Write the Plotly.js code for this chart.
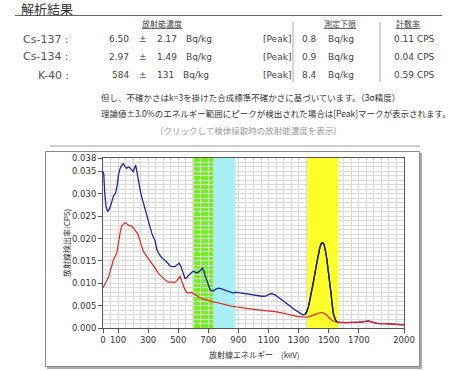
<!DOCTYPE html>
<html>
<head>
<meta charset="utf-8">
<script src="https://cdn.plot.ly/plotly-3.0.1.min.js"></script>
<style>
html,body{margin:0;padding:0;background:#fff;}
#chart{width:471px;height:371px;}
</style>
</head>
<body>
<div id="chart"></div>
<script>
// ---------- data ----------
const nuclides = ['Cs-137', 'Cs-134', 'K-40'];
const concValues = ['6.50', '2.97', '584'];
const concUnc = ['2.17', '1.49', '131'];
const peakMarks = ['[Peak]', '[Peak]', '[Peak]'];
const detLimits = ['0.8', '0.9', '8.4'];
const countRates = ['0.11', '0.04', '0.59'];

const xTickVals = [0, 100, 300, 500, 700, 900, 1100, 1300, 1500, 1700, 2000];
const yTickVals = [0, 0.005, 0.010, 0.015, 0.020, 0.025, 0.030, 0.035, 0.038];

// energy windows (keV)
const cs137Window = [595, 735];
const cs134Window = [735, 880];
const k40Window = [1357, 1565];

// blue spectrum
const blueE = [0, 5, 12, 20, 31, 45, 58, 70, 84, 95, 102, 112, 124, 135, 145, 157, 168, 179, 190, 201, 210, 217, 225, 235, 246, 257, 268, 279, 290, 301, 312, 324, 335, 346, 357, 368, 390, 410, 423, 440, 456, 478, 495, 505, 515, 523, 535, 545, 556, 567, 589, 600, 611, 622, 633, 645, 660, 670, 678, 687, 696, 705, 711, 722, 733, 750, 766, 783, 799, 816, 833, 850, 866, 882, 899, 922, 944, 966, 988, 1010, 1032, 1054, 1076, 1093, 1110, 1127, 1143, 1160, 1176, 1193, 1209, 1226, 1243, 1260, 1276, 1293, 1309, 1320, 1331, 1342, 1353, 1364, 1375, 1386, 1397, 1408, 1420, 1431, 1442, 1451, 1460, 1468, 1475, 1486, 1497, 1506, 1515, 1522, 1530, 1542, 1553, 1570, 1590, 1608, 1630, 1650, 1674, 1700, 1730, 1763, 1790, 1829, 1870, 1918, 1960, 2000];
const blueCps = [0.0350, 0.0345, 0.0300, 0.0272, 0.0260, 0.0268, 0.0282, 0.0295, 0.0302, 0.0320, 0.0340, 0.0355, 0.0364, 0.0367, 0.0362, 0.0357, 0.0360, 0.0358, 0.0354, 0.0350, 0.0358, 0.0364, 0.0350, 0.0327, 0.0310, 0.0293, 0.0280, 0.0264, 0.0250, 0.0238, 0.0225, 0.0212, 0.0203, 0.0195, 0.0176, 0.0168, 0.0157, 0.0152, 0.0148, 0.0141, 0.0137, 0.0137, 0.0141, 0.0145, 0.0140, 0.0133, 0.0120, 0.0111, 0.0112, 0.0117, 0.0124, 0.0127, 0.0125, 0.0123, 0.0125, 0.0128, 0.0134, 0.0128, 0.0118, 0.0108, 0.0100, 0.0090, 0.0086, 0.0083, 0.0083, 0.0087, 0.0089, 0.0088, 0.0086, 0.0083, 0.0081, 0.0080, 0.0078, 0.0080, 0.0079, 0.0078, 0.0076, 0.0075, 0.0074, 0.0073, 0.0072, 0.0071, 0.0071, 0.0074, 0.0076, 0.0076, 0.0074, 0.0070, 0.0066, 0.0062, 0.0059, 0.0054, 0.0049, 0.0044, 0.0040, 0.0036, 0.0033, 0.0031, 0.0029, 0.0030, 0.0036, 0.0046, 0.0063, 0.0080, 0.0100, 0.0122, 0.0145, 0.0165, 0.0182, 0.0189, 0.0191, 0.0187, 0.0178, 0.0157, 0.0130, 0.0104, 0.0078, 0.0055, 0.0033, 0.0020, 0.0014, 0.0013, 0.0012, 0.0012, 0.0012, 0.0012, 0.0012, 0.0013, 0.0014, 0.0016, 0.0013, 0.0010, 0.0010, 0.0009, 0.0008, 0.0007];

// red spectrum
const redE = [0, 12, 24, 35, 47, 58, 69, 80, 91, 100, 106, 115, 124, 135, 145, 151, 160, 168, 179, 190, 201, 213, 224, 235, 246, 257, 268, 285, 301, 318, 334, 350, 368, 385, 401, 418, 434, 456, 478, 490, 500, 512, 520, 527, 536, 545, 556, 567, 578, 589, 600, 611, 633, 656, 689, 722, 755, 789, 822, 855, 889, 922, 955, 988, 1021, 1054, 1088, 1121, 1154, 1187, 1220, 1254, 1287, 1320, 1342, 1364, 1386, 1408, 1431, 1453, 1468, 1486, 1503, 1519, 1536, 1553, 1580, 1608, 1640, 1674, 1700, 1730, 1763, 1790, 1829, 1870, 1918, 1960, 2000];
const redCps = [0.0090, 0.0098, 0.0103, 0.0112, 0.0126, 0.0140, 0.0152, 0.0160, 0.0167, 0.0185, 0.0200, 0.0215, 0.0228, 0.0233, 0.0235, 0.0235, 0.0232, 0.0230, 0.0229, 0.0228, 0.0224, 0.0220, 0.0214, 0.0206, 0.0193, 0.0180, 0.0171, 0.0163, 0.0156, 0.0148, 0.0141, 0.0132, 0.0122, 0.0116, 0.0111, 0.0106, 0.0103, 0.0102, 0.0102, 0.0106, 0.0111, 0.0115, 0.0108, 0.0100, 0.0092, 0.0085, 0.0080, 0.0078, 0.0079, 0.0080, 0.0077, 0.0074, 0.0070, 0.0066, 0.0062, 0.0059, 0.0057, 0.0054, 0.0051, 0.0049, 0.0047, 0.0046, 0.0044, 0.0042, 0.0041, 0.0040, 0.0039, 0.0038, 0.0036, 0.0034, 0.0031, 0.0029, 0.0026, 0.0025, 0.0024, 0.0025, 0.0027, 0.0030, 0.0033, 0.0035, 0.0033, 0.0029, 0.0023, 0.0018, 0.0015, 0.0013, 0.0012, 0.0012, 0.0012, 0.0012, 0.0013, 0.0014, 0.0016, 0.0013, 0.0010, 0.0010, 0.0009, 0.0008, 0.0007];

// ---------- layout helpers ----------
const PL = 103, PR = 404, PT = 158, PB = 328;
const YMAX = 0.038;
const fx = p => (p - PL) / (PR - PL);
const fy = p => (PB - p) / (PB - PT);
const LAT = 'DejaVu Sans, Verdana, sans-serif';
const JP = 'Noto Sans CJK JP, sans-serif';

const annotations = [];
function txt(text, x, y, anchor, size, color, family, extra) {
  annotations.push(Object.assign({
    text: text, xref: 'paper', yref: 'paper', x: fx(x), y: fy(y),
    xanchor: anchor, yanchor: 'middle', showarrow: false, borderpad: 0,
    font: {family: family || LAT, size: size, color: color || '#444'}
  }, extra || {}));
}
const shapes = [];
function pline(x0, y0, x1, y1, color, width) {
  shapes.push({type: 'line', xref: 'paper', yref: 'paper', x0: fx(x0), y0: fy(y0), x1: fx(x1), y1: fy(y1),
    line: {color: color, width: width}});
}

// header
txt('解析結果', 20, 8, 'left', 13, '#333', JP);
pline(15, 15.5, 442, 15.5, '#666', 1);
txt('<u>放射能濃度</u>', 162, 24, 'center', 8, '#444', JP);
txt('<u>測定下限</u>', 340, 24, 'center', 8, '#444', JP);
txt('<u>計数率</u>', 408, 24, 'center', 8, '#444', JP);
pline(293, 22, 293, 82, '#aaa', 1);
pline(380, 22, 380, 82, '#aaa', 1);

const rowY = [39, 57, 75];
const bqX = [185, 185, 182];
nuclides.forEach((n, i) => {
  const y = rowY[i];
  txt(n + ' :', 70, y, 'right', 11, '#555');
  txt(concValues[i], 130, y, 'right', 9, '#444');
  txt('±', 143, y, 'center', 9, '#444');
  txt(concUnc[i], 156, y, 'left', 9, '#444');
  txt('Bq/kg', bqX[i], y, 'left', 9, '#444');
  txt(peakMarks[i], 262, y, 'left', 9, '#444');
  txt(detLimits[i], 318, y, 'right', 9, '#444');
  txt('Bq/kg', 327, y, 'left', 9, '#444');
  txt(countRates[i] + ' CPS', 393, y, 'left', 9, '#444');
});

txt('但し、不確かさはk=3を掛けた合成標準不確かさに基づいています。（3σ精度）', 100, 97, 'left', 8.5, '#333', JP);
txt('理論値±3.0%のエネルギー範囲にピークが検出された場合は[Peak]マークが表示されます。', 100, 113, 'left', 8.5, '#333', JP);
txt('（クリックして検体採取時の放射能濃度を表示）', 248, 130, 'center', 8.5, '#999', JP);
pline(50, 146, 420, 146, '#999', 1);

// chart frame with shadow
shapes.push({type: 'rect', xref: 'paper', yref: 'paper', x0: fx(45.5), y0: fy(151.5), x1: fx(419.5), y1: fy(366.5),
  line: {color: '#888', width: 1}, fillcolor: 'rgba(0,0,0,0)'});
pline(47, 368, 421, 368, '#aaa', 2);
pline(421, 153, 421, 369, '#aaa', 2);

// Cs-137 window: below the grid, so grid shows through
shapes.push({type: 'rect', xref: 'x', yref: 'paper', x0: cs137Window[0], x1: cs137Window[1], y0: 0, y1: 1,
  fillcolor: '#77ee22', line: {width: 0}, layer: 'below'});

// axis titles
txt('放射線検出率(CPS)', 66, 243, 'center', 8, '#333', JP, {textangle: -90});
txt('放射線エネルギー　(keV)', 254, 354, 'center', 8, '#333', JP);

// Cs-134 and K-40 windows as filled traces (above grid, below spectra)
function band(win, color) {
  return {x: [win[0], win[1], win[1], win[0], win[0]], y: [0, 0, YMAX, YMAX, 0],
    type: 'scatter', mode: 'lines', fill: 'toself', fillcolor: color, line: {width: 0, color: color}, hoverinfo: 'skip'};
}

// peak segment of the blue spectrum (drawn black)
const pkStart = blueE.indexOf(1342), pkEnd = blueE.indexOf(1553);

const traces = [
  band(cs134Window, '#a8f0f6'),
  band(k40Window, '#ffff2a'),
  {x: blueE, y: blueCps, type: 'scatter', mode: 'lines', line: {color: '#1f24b0', width: 1.3}, hoverinfo: 'skip'},
  {x: redE, y: redCps, type: 'scatter', mode: 'lines', line: {color: '#e3261f', width: 1.2}, hoverinfo: 'skip'},
  {x: blueE.slice(pkStart, pkEnd + 1), y: blueCps.slice(pkStart, pkEnd + 1), type: 'scatter', mode: 'lines',
   line: {color: '#1a1a1a', width: 1.3}, hoverinfo: 'skip'}
];

const gridC = '#d9d9d9';
const layout = {
  width: 471, height: 371,
  margin: {l: PL, r: 471 - PR, t: PT, b: 371 - PB, pad: 0},
  paper_bgcolor: '#fff', plot_bgcolor: '#fff',
  showlegend: false,
  xaxis: {
    range: [0, 2000], tickmode: 'array', tickvals: xTickVals, ticktext: xTickVals.map(String),
    ticks: 'outside', ticklen: 4, tickcolor: '#555', tickwidth: 1,
    showline: true, linecolor: '#555', linewidth: 1, mirror: true,
    showgrid: true, gridcolor: gridC, gridwidth: 1, zeroline: false,
    minor: {dtick: 50, tick0: 0, showgrid: true, gridcolor: gridC, gridwidth: 1},
    tickfont: {family: LAT, size: 8.5, color: '#333'}, fixedrange: true
  },
  yaxis: {
    range: [0, YMAX], tickmode: 'array', tickvals: yTickVals, ticktext: yTickVals.map(v => v.toFixed(3)),
    ticks: 'outside', ticklen: 4, tickcolor: '#555', tickwidth: 1,
    showline: true, linecolor: '#555', linewidth: 1, mirror: true,
    showgrid: true, gridcolor: gridC, gridwidth: 1, zeroline: false,
    minor: {dtick: 0.001, tick0: 0, showgrid: true, gridcolor: gridC, gridwidth: 1},
    tickfont: {family: LAT, size: 8.5, color: '#333'}, fixedrange: true
  },
  annotations: annotations,
  shapes: shapes
};

Plotly.newPlot('chart', traces, layout, {staticPlot: true, displayModeBar: false});
</script>
</body>
</html>
